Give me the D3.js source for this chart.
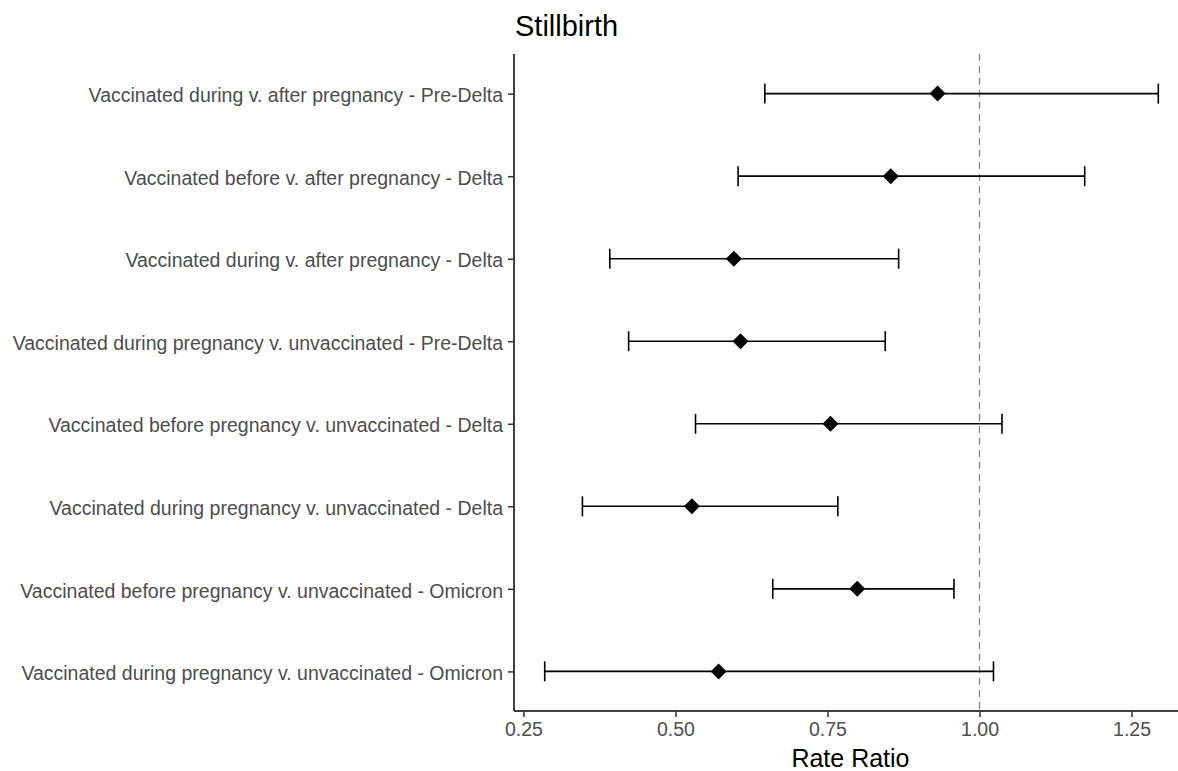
<!DOCTYPE html>
<html>
<head>
<meta charset="utf-8">
<script src="https://cdn.jsdelivr.net/npm/d3@7"></script>
<style>
  body { margin: 0; background: #fff; }
  svg { font-family: "Liberation Sans", Arial, sans-serif; }
</style>
</head>
<body>
<div id="chart"></div>
<script>
// comparisons, top to bottom
const labels = [
  "Vaccinated during v. after pregnancy - Pre-Delta",
  "Vaccinated before v. after pregnancy - Delta",
  "Vaccinated during v. after pregnancy - Delta",
  "Vaccinated during pregnancy v. unvaccinated - Pre-Delta",
  "Vaccinated before pregnancy v. unvaccinated - Delta",
  "Vaccinated during pregnancy v. unvaccinated - Delta",
  "Vaccinated before pregnancy v. unvaccinated - Omicron",
  "Vaccinated during pregnancy v. unvaccinated - Omicron"
];
const rateRatio = [0.931, 0.854, 0.596, 0.607, 0.755, 0.527, 0.799, 0.571];
const lowerCI   = [0.647, 0.603, 0.392, 0.423, 0.533, 0.347, 0.660, 0.285];
const upperCI   = [1.294, 1.173, 0.867, 0.845, 1.037, 0.767, 0.958, 1.023];
const xTicks = [0.25, 0.50, 0.75, 1.00, 1.25];

const width = 1178, height = 771;
const margin = { top: 54, right: -11, bottom: 60, left: 514 };

const svg = d3.select('#chart')
  .append('svg')
  .attr('width', width)
  .attr('height', height);

const x = d3.scaleLinear()
  .domain([0.2345, 1.3445])
  .range([margin.left, width - margin.right]);

const y = d3.scalePoint()
  .domain(labels)
  .range([margin.top, height - margin.bottom])
  .padding(0.48);

// reference line at 1
svg.append('line')
  .attr('x1', x(1)).attr('x2', x(1))
  .attr('y1', margin.top).attr('y2', height - margin.bottom)
  .attr('stroke', '#888')
  .attr('stroke-width', 1.3)
  .attr('stroke-dasharray', '7,5');

// axes
const xAxis = svg.append('g')
  .attr('transform', `translate(0, ${height - margin.bottom})`)
  .call(d3.axisBottom(x).tickValues(xTicks).tickFormat(d3.format('.2f')).tickSize(6).tickPadding(5));

const yAxis = svg.append('g')
  .attr('transform', `translate(${margin.left}, 0)`)
  .call(d3.axisLeft(y).tickSize(6).tickPadding(5));

[xAxis, yAxis].forEach(g => {
  g.select('.domain').attr('stroke', '#000').attr('stroke-width', 1.5);
  g.selectAll('.tick line').attr('stroke', '#333').attr('stroke-width', 1.5);
  g.selectAll('.tick text')
    .attr('fill', '#4d4d4d')
    .style('font-size', '19.5px')
    .style('font-family', '"Liberation Sans", Arial, sans-serif');
});
yAxis.selectAll('.tick text').attr('dy', '0.42em');
xAxis.select('.domain').attr('d', `M${margin.left},0H${width}`);
yAxis.select('.domain').attr('d', `M0,${margin.top}V${height - margin.bottom}`);

// error bars
const rows = labels.map((d, i) => ({ label: d, est: rateRatio[i], lo: lowerCI[i], hi: upperCI[i] }));
const capH = 10;

const bars = svg.append('g').selectAll('g')
  .data(rows)
  .enter().append('g');

bars.append('line')
  .attr('x1', d => x(d.lo)).attr('x2', d => x(d.hi))
  .attr('y1', d => y(d.label)).attr('y2', d => y(d.label))
  .attr('stroke', '#000').attr('stroke-width', 1.6);

bars.append('line')
  .attr('x1', d => x(d.lo)).attr('x2', d => x(d.lo))
  .attr('y1', d => y(d.label) - capH).attr('y2', d => y(d.label) + capH)
  .attr('stroke', '#000').attr('stroke-width', 1.6);

bars.append('line')
  .attr('x1', d => x(d.hi)).attr('x2', d => x(d.hi))
  .attr('y1', d => y(d.label) - capH).attr('y2', d => y(d.label) + capH)
  .attr('stroke', '#000').attr('stroke-width', 1.6);

// diamonds
const r = 8;
bars.append('path')
  .attr('d', d => {
    const cx = x(d.est), cy = y(d.label);
    return `M${cx},${cy - r}L${cx + r},${cy}L${cx},${cy + r}L${cx - r},${cy}Z`;
  })
  .attr('fill', '#000');

// title
svg.append('text')
  .attr('x', 515)
  .attr('y', 36)
  .attr('font-size', '29px')
  .attr('fill', '#000')
  .text('Stillbirth');

// x axis title
svg.append('text')
  .attr('x', x(0.7845) + 2)
  .attr('y', 767)
  .attr('text-anchor', 'middle')
  .attr('font-size', '25px')
  .attr('fill', '#000')
  .text('Rate Ratio');
</script>
</body>
</html>
